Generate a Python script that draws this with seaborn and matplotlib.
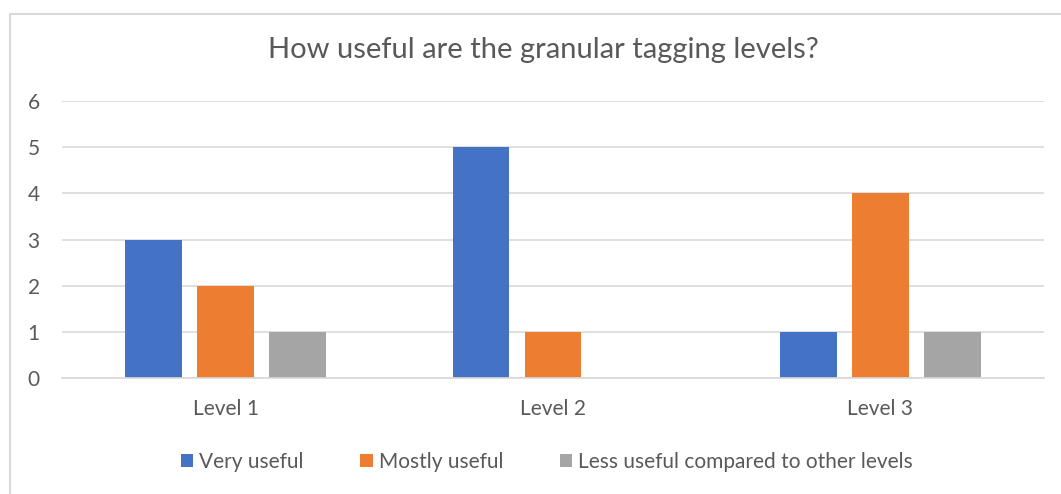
import pandas as pd
import matplotlib.pyplot as plt
import seaborn as sns
from matplotlib.patches import Rectangle

# --- data ---
levels = ["Level 1", "Level 2", "Level 3"]
very_useful = [3, 5, 1]
mostly_useful = [2, 1, 4]
less_useful = [1, 0, 1]
series_names = ["Very useful", "Mostly useful", "Less useful compared to other levels"]
colors = ["#4472C4", "#ED7D31", "#A5A5A5"]

rows = []
for name, vals in zip(series_names, [very_useful, mostly_useful, less_useful]):
    for lvl, v in zip(levels, vals):
        rows.append({"Level": lvl, "Series": name, "Count": v})
df = pd.DataFrame(rows)

sns.set_theme(style="white")
plt.rcParams["font.family"] = ["Lato", "DejaVu Sans"]
text_col = "#595959"

fig = plt.figure(figsize=(10.61, 4.94), dpi=100)
ax = fig.add_axes([62 / 1061, 1 - 378 / 494, (1044 - 62) / 1061, (378 - 101) / 494])

sns.barplot(data=df, x="Level", y="Count", hue="Series", palette=colors,
            width=0.66, gap=0.21, ax=ax, saturation=1, legend=True,
            linewidth=0)

ax.set_xlim(-0.5, 2.5)
ax.set_ylim(0, 6)
ax.set_yticks(range(0, 7))
ax.yaxis.grid(True, color="#D9D9D9", linewidth=1.2)
ax.set_axisbelow(True)
for s in ["top", "right", "left"]:
    ax.spines[s].set_visible(False)
ax.spines["bottom"].set_color("#D9D9D9")
ax.spines["bottom"].set_linewidth(1.2)
ax.tick_params(axis="both", length=0, labelsize=15, colors=text_col)
ax.tick_params(axis="y", pad=16)
ax.tick_params(axis="x", pad=15)
ax.set_xlabel("")
ax.set_ylabel("")

fig.text(0.512, 1 - 50 / 494, "How useful are the granular tagging levels?",
         ha="center", va="center", fontsize=21, color=text_col)

handles, labels = ax.get_legend_handles_labels()
ax.legend(handles, labels, loc="center", bbox_to_anchor=(547 / 1061, 1 - 462 / 494),
          bbox_transform=fig.transFigure, ncol=3, frameon=False, fontsize=15,
          labelcolor=text_col, handlelength=0.6, handleheight=0.6,
          handletextpad=0.3, columnspacing=2.7)

# chart border
fig.patches.append(Rectangle((10 / 1061, -0.1), 1.2, 1 - 14 / 494 + 0.1,
                             transform=fig.transFigure, fill=False,
                             edgecolor="#D9D9D9", linewidth=1.5))

fig.savefig("out.png", dpi=100)
